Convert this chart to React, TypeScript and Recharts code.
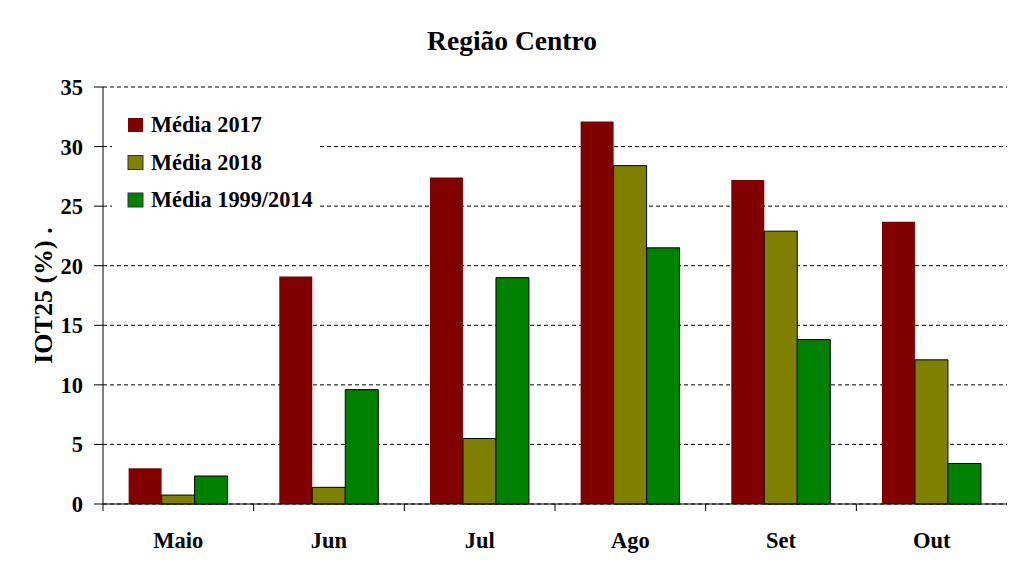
import { BarChart, Bar, XAxis, YAxis, CartesianGrid, Legend } from "recharts"

const months = ["Maio", "Jun", "Jul", "Ago", "Set", "Out"]
const media2017 = [3.0, 19.1, 27.4, 32.1, 27.2, 23.7]
const media2018 = [0.75, 1.4, 5.5, 28.4, 22.9, 12.1]
const media9914 = [2.35, 9.6, 19.0, 21.5, 13.8, 3.4]
const yTicks = [0, 5, 10, 15, 20, 25, 30, 35]

const data = months.map((m, i) => ({
    name: m,
    m2017: media2017[i],
    m2018: media2018[i],
    m9914: media9914[i],
}))

const W = 1024
const H = 572
const LEFT = 103
const RIGHT = 17
const BAND = (W - LEFT - RIGHT) / months.length
const FONT = "Liberation Serif, DejaVu Serif"

const series = [
    { key: "m2017", label: "Média 2017", color: "#800000", stroke: "none" },
    { key: "m2018", label: "Média 2018", color: "#808000", stroke: "#000" },
    { key: "m9914", label: "Média 1999/2014", color: "#008000", stroke: "#000" },
]

function MonthTick(props: any) {
    const { x, y, payload } = props
    const bx = x - BAND / 2
    return (
        <g>
            <line x1={bx} y1={y} x2={bx} y2={y + 7} stroke="#000" />
            <text x={x} y={y + 44} textAnchor="middle" style={{ fontFamily: FONT }} fontWeight="bold" fontSize={22.5} fill="#000">
                {payload.value}
            </text>
        </g>
    )
}

function LegendBox() {
    return (
        <svg width={206} height={110} style={{ display: "block", background: "#fff" }}>
            {series.map((s, i) => (
                <g key={s.key}>
                    <rect x={16} y={12 + i * 37.5} width={15} height={14} fill={s.color} stroke={s.stroke === "none" ? "none" : "#333"} />
                    <text x={39} y={26 + i * 37.5} style={{ fontFamily: FONT }} fontWeight="bold" fontSize={22.3} fill="#000">
                        {s.label}
                    </text>
                </g>
            ))}
        </svg>
    )
}

function YLabel(props: any) {
    const vb = props.viewBox || { y: 87, height: 417 }
    const cx = 43
    const cy = vb.y + vb.height / 2
    return (
        <text x={cx} y={cy} transform={`rotate(-90 ${cx} ${cy})`} textAnchor="middle" dominantBaseline="central"
            style={{ fontFamily: FONT }} fontWeight="bold" fontSize={26} fill="#000">
            IOT25 (%) .
        </text>
    )
}

export default function App() {
    return (
        <div style={{ position: "relative", width: W, height: H, background: "#fff" }}>
            <style>{"body{margin:0}"}</style>
            <div style={{
                position: "absolute", left: 0, top: 25, width: W, textAlign: "center",
                fontFamily: FONT, fontWeight: "bold", fontSize: 27.5, lineHeight: "32px",
            }}>
                Região Centro
            </div>
            <BarChart width={W} height={H} data={data} margin={{ top: 87, right: RIGHT, bottom: 0, left: 0 }}
                barCategoryGap="17%" barGap={0} style={{ fontFamily: FONT }}>
                <CartesianGrid vertical={false} stroke="#000" strokeDasharray="4 3" />
                <XAxis dataKey="name" height={68} axisLine={{ stroke: "#000" }} tickLine={false} tickSize={0} tickMargin={0}
                    interval={0} tick={<MonthTick />} />
                <XAxis xAxisId="top" dataKey="name" orientation="top" height={0} tick={false} tickLine={false}
                    axisLine={{ stroke: "#000" }} />
                <YAxis width={LEFT} domain={[0, 35]} ticks={yTicks} interval={0} axisLine={{ stroke: "#000" }}
                    tickLine={{ stroke: "#000" }} tickSize={9} tickMargin={11}
                    tick={{ fill: "#000", fontWeight: "bold", fontSize: 22.5, style: { fontFamily: FONT } }}
                    label={{ content: <YLabel /> }} />
                <YAxis yAxisId="right" orientation="right" width={0} tick={false} tickLine={false}
                    axisLine={{ stroke: "#000" }} />
                <Legend layout="vertical" align="center" verticalAlign="middle"
                    wrapperStyle={{ left: 112, top: 106, width: 206, height: 110 }}
                    content={<LegendBox />} />
                {series.map((s) => (
                    <Bar key={s.key} dataKey={s.key} name={s.label} fill={s.color} stroke={s.stroke}
                        strokeWidth={1} isAnimationActive={false} />
                ))}
            </BarChart>
        </div>
    )
}
